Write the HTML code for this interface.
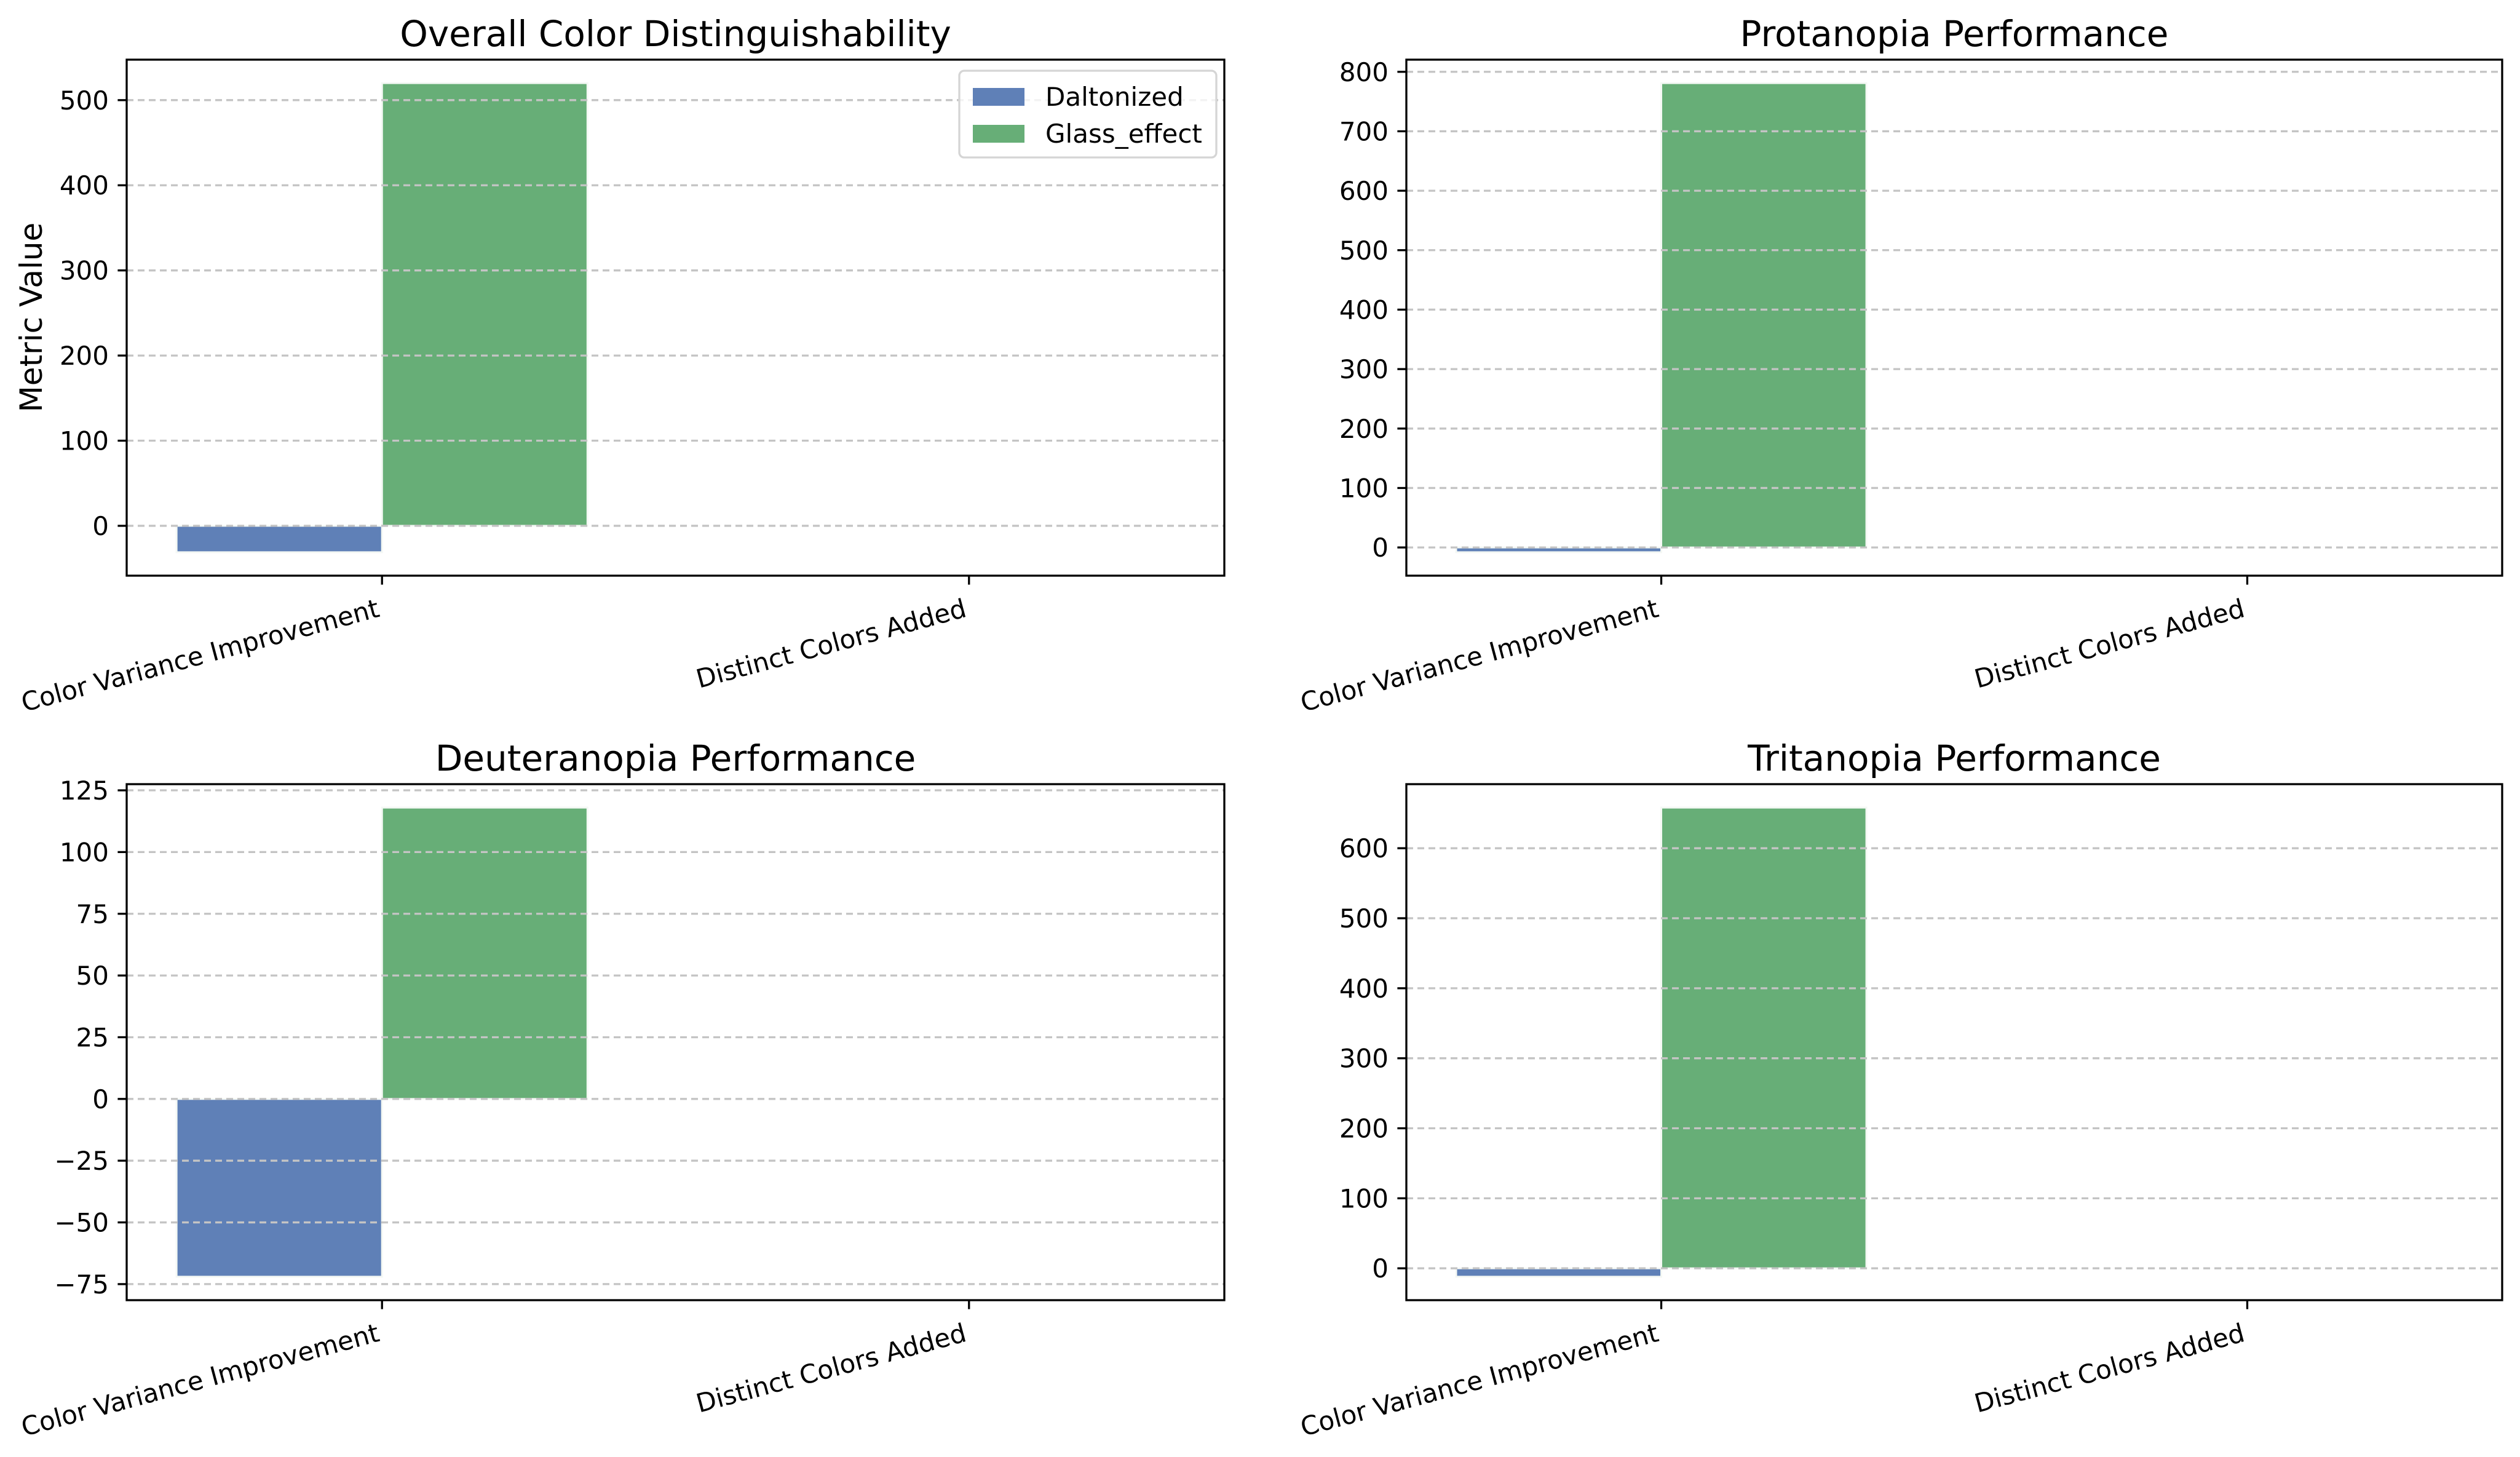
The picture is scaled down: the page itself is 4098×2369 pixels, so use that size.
<!DOCTYPE html>
<html><head><meta charset="utf-8"><style>
html,body{margin:0;padding:0;background:#fff;}
svg{display:block;font-family:"DejaVu Sans","Liberation Sans",sans-serif;}
</style></head><body>
<svg id="fig" width="4098" height="2369" viewBox="0 0 4098 2369" xmlns="http://www.w3.org/2000/svg">
<rect width="4098" height="2369" fill="#fff"/>
</svg>
<script>
const categories = ["Color Variance Improvement", "Distinct Colors Added"];
const seriesNames = ["Daltonized", "Glass_effect"];
const overallDaltonized = [-31, 0];
const overallGlass = [520, 0];
const protanopiaDaltonized = [-8, 0];
const protanopiaGlass = [781, 0];
const deuteranopiaDaltonized = [-72, 0];
const deuteranopiaGlass = [118, 0];
const tritanopiaDaltonized = [-12, 0];
const tritanopiaGlass = [658, 0];
const overallTicks = [0, 100, 200, 300, 400, 500];
const protanopiaTicks = [0, 100, 200, 300, 400, 500, 600, 700, 800];
const deuteranopiaTicks = [-75, -50, -25, 0, 25, 50, 75, 100, 125];
const tritanopiaTicks = [0, 100, 200, 300, 400, 500, 600];
const titles = ["Overall Color Distinguishability", "Protanopia Performance", "Deuteranopia Performance", "Tritanopia Performance"];

const NS = "http://www.w3.org/2000/svg";
const svg = document.getElementById("fig");
const COLORS = ["#5f80b7", "#67ae77"];
function mk(tag, attrs, parent) {
  const e = document.createElementNS(NS, tag);
  for (const k in attrs) e.setAttribute(k, attrs[k]);
  (parent || svg).appendChild(e);
  return e;
}
const panels = [
  {x0: 206, x1: 1991, y0: 97, y1: 936, d: overallDaltonized, g: overallGlass, ticks: overallTicks, key: "overall"},
  {x0: 2287, x1: 4069, y0: 97, y1: 936, d: protanopiaDaltonized, g: protanopiaGlass, ticks: protanopiaTicks, key: "protanopia"},
  {x0: 206, x1: 1991, y0: 1275, y1: 2114, d: deuteranopiaDaltonized, g: deuteranopiaGlass, ticks: deuteranopiaTicks, key: "deuteranopia"},
  {x0: 2287, x1: 4069, y0: 1275, y1: 2114, d: tritanopiaDaltonized, g: tritanopiaGlass, ticks: tritanopiaTicks, key: "tritanopia"}
];
const W = 0.35;
panels.forEach((p, pi) => {
  const grp = mk("g", {});
  
  
  const all = p.d.concat(p.g);
  let mn = Math.min(0, ...all), mx = Math.max(0, ...all);
  const r = mx - mn || 1;
  const ymin = mn - 0.05 * r, ymax = mx + 0.05 * r;
  const xmin = -W - 0.085, xmax = categories.length - 1 + W + 0.085;
  const X = v => p.x0 + (v - xmin) / (xmax - xmin) * (p.x1 - p.x0);
  const Y = v => p.y1 - (v - ymin) / (ymax - ymin) * (p.y1 - p.y0);
  // bars
  [p.d, p.g].forEach((vals, si) => {
    vals.forEach((v, ci) => {
      const c = ci + (si === 0 ? -W / 2 : W / 2);
      const xa = X(c - W / 2), xb = X(c + W / 2);
      const ya = Y(Math.max(v, 0)), yb = Y(Math.min(v, 0));
      const b = mk("rect", {x: xa, y: ya, width: xb - xa, height: Math.max(yb - ya, 0), fill: COLORS[si], stroke: "#f4f8f4", "stroke-width": 3}, grp);
      
      
    });
  });
  // grid + y ticks
  p.ticks.forEach(t => {
    const y = Y(t);
    const gl = mk("line", {x1: p.x0, x2: p.x1, y1: y, y2: y, stroke: "#c4c4c4", "stroke-width": 3.3, "stroke-dasharray": "11,7"}, grp);
    
    
    mk("line", {x1: p.x0 - 14.6, x2: p.x0, y1: y, y2: y, stroke: "#000", "stroke-width": 3.3}, grp);
    const tl = mk("text", {x: p.x0 - 29, y: y + 15, "text-anchor": "end", "font-size": 42, fill: "#000"}, grp);
    tl.textContent = t < 0 ? "\u2212" + Math.abs(t) : String(t);
    
    
  });
  // x ticks
  categories.forEach((c, ci) => {
    const x = X(ci);
    mk("line", {x1: x, x2: x, y1: p.y1, y2: p.y1 + 14.6, stroke: "#000", "stroke-width": 3.3}, grp);
    const px = x - 2, py = p.y1 + 29 + 37;
    const tl = mk("text", {x: px, y: py, "text-anchor": "end", "font-size": 42, fill: "#000", transform: "rotate(-15 " + px + " " + py + ")"}, grp);
    tl.textContent = c;
    
    
  });
  // frame
  const fr = mk("rect", {x: p.x0, y: p.y0, width: p.x1 - p.x0, height: p.y1 - p.y0, fill: "none", stroke: "#000", "stroke-width": 3.3}, grp);
  
  
  const tt = mk("text", {x: (p.x0 + p.x1) / 2, y: p.y0 - 22, "text-anchor": "middle", "font-size": 58, fill: "#000"}, grp);
  tt.textContent = titles[pi];
  
  
});
// y label
const yl = mk("text", {x: 0, y: 0, "text-anchor": "middle", "font-size": 50, fill: "#000", transform: "translate(68 516) rotate(-90)"});
yl.textContent = "Metric Value";


// legend
const lg = mk("g", {});


mk("rect", {x: 1560, y: 115, width: 418, height: 141, rx: 8, fill: "#fff", "fill-opacity": 0.8, stroke: "#d5d5d5", "stroke-width": 3.3}, lg);
seriesNames.forEach((n, i) => {
  const e = mk("g", {}, lg);
  
  
  mk("rect", {x: 1582, y: 143 + i * 60, width: 84, height: 29, fill: COLORS[i]}, e);
  const t = mk("text", {x: 1700, y: 172 + i * 60, "font-size": 42, fill: "#000"}, e);
  t.textContent = n;
});
</script>
</body></html>
